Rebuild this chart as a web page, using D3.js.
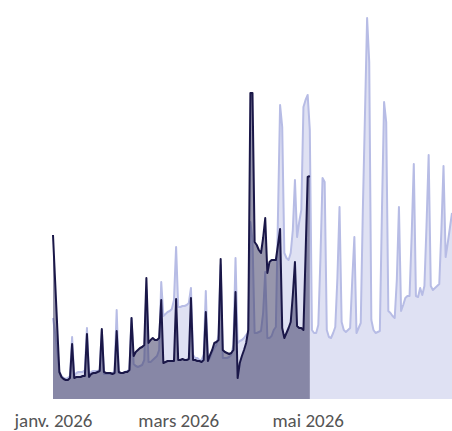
<!DOCTYPE html>
<html><head><meta charset="utf-8">
<script src="https://cdn.jsdelivr.net/npm/d3@7"></script>
<style>body{margin:0;background:#fff}svg{display:block}</style>
</head><body><svg id="c" width="452" height="431"></svg>
<script>
// Daily series starting 1 Jan 2026
const startDate = "2026-01-01";
const endDate = "2026-07-08";
const tickDates = ["2026-01-01", "2026-03-01", "2026-05-01"];
const tickLabels = ["janv. 2026", "mars 2026", "mai 2026"];

// current period (dark), Jan 1 -> May 2
const currentValues = [
164,118,72,27,22,20,19,19,21,55,21,22,22,22,23,23,65,22,25,26,26,27,28,70,27,26,26,26,25,26,
68,27,26,26,27,27,29,81,43,47,49,51,52,54,121,56,59,61,59,59,61,99,36,37,38,38,38,38,100,39,
39,40,39,39,40,101,39,39,38,38,37,39,87,38,44,49,56,57,59,140,49,47,46,45,46,49,107,21,36,43,
49,56,69,306,306,157,154,149,146,161,181,126,137,139,139,139,154,170,71,61,66,71,77,104,137,73,
71,71,69,144,222,223];

// comparison period (light), Jan 1 -> Jul 8
const previousValues = [
81,66,47,27,23,21,20,21,23,62,23,26,27,27,27,29,71,24,27,28,28,28,29,69,25,25,25,25,26,27,
89,26,26,26,27,28,29,81,35,33,32,33,34,39,109,37,37,39,41,43,49,117,83,85,87,88,90,99,152,92,
92,93,93,94,96,111,44,41,41,39,39,44,108,38,41,47,51,54,64,134,41,41,41,42,44,54,141,56,58,59,
61,64,66,177,159,66,66,67,68,86,127,61,61,63,69,72,183,294,272,146,141,139,146,169,219,162,
177,189,292,299,304,269,69,66,66,74,140,221,217,69,62,61,66,72,121,192,77,69,67,69,71,119,162,
66,71,76,190,285,381,337,79,69,66,67,68,189,297,277,88,86,83,81,119,192,88,94,101,103,103,164,
235,103,102,111,104,113,174,244,113,109,111,113,115,169,233,142,156,171,186];

const parse = d3.timeParse("%Y-%m-%d");
const t0 = parse(startDate);
const toSeries = arr => arr.map((v, i) => ({date: d3.timeDay.offset(t0, i), value: v}));
const cur = toSeries(currentValues);
const prev = toSeries(previousValues);

const svg = d3.select("#c");
const x = d3.scaleTime().domain([t0, parse(endDate)]).range([53, 452]);
const y = d3.scaleLinear().domain([0, 381]).range([399, 18]);

const area = d3.area().x(d => x(d.date)).y0(y(0)).y1(d => y(d.value));
const line = d3.line().x(d => x(d.date)).y(d => y(d.value));

svg.append("path").datum(prev).attr("d", area).attr("fill", "#dfe1f3");
svg.append("path").datum(prev).attr("d", line).attr("fill", "none")
  .attr("stroke", "#b7bce5").attr("stroke-width", 2).attr("stroke-linejoin", "round");

svg.append("path").datum(cur).attr("d", area).attr("fill", "rgb(47,45,89)").attr("fill-opacity", 0.5);
svg.append("path").datum(cur).attr("d", line).attr("fill", "none")
  .attr("stroke", "#1a1748").attr("stroke-width", 2).attr("stroke-linejoin", "round");

const axis = d3.axisBottom(x)
  .tickValues(tickDates.map(parse))
  .tickFormat((d, i) => tickLabels[i])
  .tickSize(0);
const g = svg.append("g").attr("transform", `translate(0,${y(0)})`).call(axis);
g.select(".domain").remove();
g.selectAll("text").attr("y", 28).attr("dy", null)
  .attr("fill", "#555555")
  .style("font-family", "Carlito, Calibri, Lato, sans-serif")
  .style("font-size", "19px");
</script>
</body></html>
